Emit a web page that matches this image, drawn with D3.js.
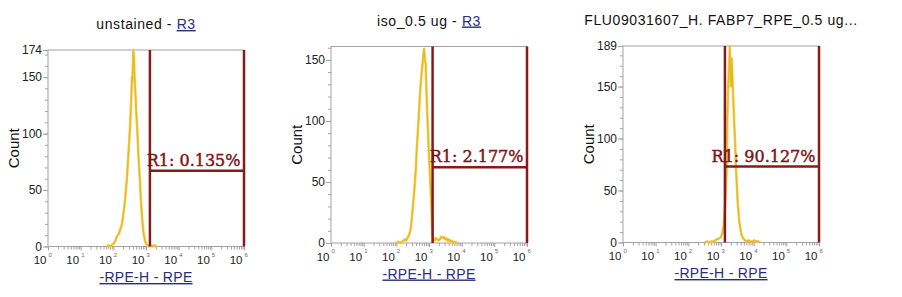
<!DOCTYPE html>
<html>
<head>
<meta charset="utf-8">
<script src="https://cdn.jsdelivr.net/npm/d3@7"></script>
<style>
  body { margin: 0; background: #fff; }
  svg { display: block; }
  text { font-family: "Liberation Sans", Arial, sans-serif; }
</style>
</head>
<body>
<svg class="plot" width="902" height="297"></svg>
<script>
  // titles of the three samples
  const sampleNames = ["unstained - ", "iso_0.5 ug - ", "FLU09031607_H. FABP7_RPE_0.5 ug..."]
  const sampleLinks = [" R3", " R3", ""]
  const axisLabel = "-RPE-H - RPE"
  const countLabel = "Count"
  const countMax = [174, 161, 189]
  const countTopLabel = ["174", "", "189"]
  const countTicks = [0, 50, 100, 150]
  const decades = [0, 1, 2, 3, 4, 5, 6]
  // R1 gate, in log10 RPE-H, and height of the gate bar in counts
  const gateFrom = [3.12, 3.11, 3.12]
  const gateTo = [6, 6, 6]
  const gateLevel = [67, 62, 73]
  const gateLabels = ["R1: 0.135%", "R1: 2.177%", "R1: 90.127%"]

  // histograms: [log10 RPE-H, count]
  const unstained = [[1.80,0],[1.86,1],[1.90,0],[1.94,1],[1.98,2],[2.02,3],[2.06,5],[2.10,8],[2.14,10],[2.18,12],
    [2.22,16],[2.26,19],[2.30,27],[2.34,36],[2.38,48],[2.42,62],[2.46,81],[2.49,96],[2.51,105],[2.54,125],
    [2.56,140],[2.57,150],[2.58,146],[2.60,162],[2.61,174],[2.63,168],[2.65,150],[2.68,134],[2.70,120],[2.73,105],
    [2.76,86],[2.79,70],[2.82,55],[2.84,43],[2.87,30],[2.90,19],[2.93,11],[2.97,5],[3.01,2],[3.05,1],
    [3.09,0],[3.14,1],[3.20,0],[3.26,1],[3.32,0]]
  const isotype = [[2.00,0],[2.06,1],[2.12,0],[2.18,1],[2.22,2],[2.26,3],[2.30,2],[2.34,4],[2.38,6],[2.42,9],
    [2.46,16],[2.50,28],[2.54,40],[2.57,50],[2.60,62],[2.62,75],[2.66,92],[2.70,110],[2.73,125],[2.77,138],
    [2.80,146],[2.83,155],[2.85,159],[2.87,152],[2.90,146],[2.92,128],[2.94,110],[2.97,92],[2.99,77],[3.02,60],
    [3.05,44],[3.07,30],[3.09,17],[3.11,8],[3.13,3],[3.17,2],[3.21,4],[3.25,3],[3.29,2],[3.33,3],
    [3.37,5],[3.41,4],[3.45,5],[3.49,3],[3.53,4],[3.57,2],[3.61,3],[3.65,1],[3.70,2],[3.75,0],[3.80,1],[3.86,0]]
  const fabp7 = [[2.50,0],[2.58,1],[2.64,0],[2.70,1],[2.76,1],[2.82,2],[2.88,3],[2.94,4],[2.99,5],[3.04,9],
    [3.08,16],[3.12,33],[3.15,50],[3.17,68],[3.19,112],[3.22,150],[3.25,170],[3.27,189],[3.29,160],[3.31,150],
    [3.33,177],[3.36,150],[3.39,128],[3.41,112],[3.44,90],[3.46,71],[3.49,52],[3.51,39],[3.54,28],[3.56,20],
    [3.60,12],[3.63,7],[3.68,4],[3.73,2],[3.78,1],[3.84,2],[3.90,1],[3.96,1],[4.02,2],[4.08,1],[4.14,1],[4.20,0]]

  const series = [unstained, isotype, fabp7]

  var panelLeft = [48, 331, 623]
  var panelTop = [50, 46.5, 46]
  var pw = 196
  var ph = 196.5
  var grey = "#a3a3a3"
  var gateColor = "#871a1a"
  var linkColor = "#2a2c80"

  const svg = d3.select("svg.plot")

  series.forEach((data, i) => {
    const g = svg.append("g")
      .attr("transform", "translate(" + panelLeft[i] + "," + panelTop[i] + ")")
    const x = d3.scaleLog().domain([1, 1e6]).range([0, pw])
    const y = d3.scaleLinear().domain([0, countMax[i]]).range([ph, 0])

    // frame
    g.append("rect")
      .attr("x", 0).attr("y", 0).attr("width", pw).attr("height", ph)
      .attr("fill", "none").attr("stroke", grey)

    // minor log ticks
    let minor = []
    decades.slice(0, -1).forEach(k => {
      for (let m = 2; m < 10; m++) minor.push(m * Math.pow(10, k))
    })
    let bottomMinor = g.append("g")
      .attr("transform", "translate(0," + ph + ")")
      .call(d3.axisBottom(x).tickValues(minor).tickSize(3).tickFormat(""))
    let bottomMajor = g.append("g")
      .attr("transform", "translate(0," + ph + ")")
      .call(d3.axisBottom(x).tickValues(decades.map(k => Math.pow(10, k))).tickSize(4).tickFormat(""))

    let yMinor = d3.range(0, countMax[i] + 1, 10)
    let leftMinor = g.append("g")
      .call(d3.axisLeft(y).tickValues(yMinor).tickSize(3).tickFormat(""))
    let yMajor = countTicks.slice()
    if (countTopLabel[i] != "") yMajor.push(countMax[i])
    let leftMajor = g.append("g")
      .call(d3.axisLeft(y).tickValues(yMajor).tickSize(5).tickFormat(""))
    ;[bottomMinor, bottomMajor, leftMinor, leftMajor].forEach(a => {
      a.select(".domain").remove()
      a.selectAll("line").attr("stroke", grey)
    })

    // y tick labels
    yMajor.forEach(v => {
      g.append("text")
        .attr("x", -6)
        .attr("y", y(v))
        .attr("dy", "0.36em")
        .attr("text-anchor", "end")
        .attr("font-size", 12)
        .attr("fill", "#222")
        .text(v)
    })

    // x tick labels: 10 with a small exponent
    decades.forEach(k => {
      g.append("text")
        .attr("x", x(Math.pow(10, k)) - 1.5)
        .attr("y", ph + 17.5)
        .attr("text-anchor", "end")
        .attr("font-size", 11.5)
        .attr("fill", "#222")
        .text("10")
      g.append("text")
        .attr("x", x(Math.pow(10, k)) + 0.5)
        .attr("y", ph + 10)
        .attr("font-size", 6)
        .attr("fill", "#666")
        .text(k)
    })

    // histogram
    const line = d3.line()
      .x(d => x(Math.pow(10, d[0])))
      .y(d => y(d[1]))
    g.append("path")
      .datum(data)
      .attr("d", line)
      .attr("fill", "none")
      .attr("stroke", "#f3d25e")
      .attr("stroke-width", 2.6)
      .attr("stroke-linejoin", "round")
    g.append("path")
      .datum(data)
      .attr("d", line)
      .attr("fill", "none")
      .attr("stroke", "#e9b91c")
      .attr("stroke-width", 1.3)
      .attr("stroke-linejoin", "round")

    // gate R1
    let gx1 = x(Math.pow(10, gateFrom[i]))
    let gx2 = x(Math.pow(10, gateTo[i]))
    let gy = y(gateLevel[i])
    g.append("line")
      .attr("x1", gx1).attr("x2", gx1).attr("y1", 0).attr("y2", ph)
      .attr("stroke", gateColor).attr("stroke-width", 2.5)
    g.append("line")
      .attr("x1", gx2).attr("x2", gx2).attr("y1", 0).attr("y2", ph)
      .attr("stroke", gateColor).attr("stroke-width", 2.5)
    g.append("line")
      .attr("x1", gx1).attr("x2", gx2).attr("y1", gy).attr("y2", gy)
      .attr("stroke", gateColor).attr("stroke-width", 2.5)
    g.append("text")
      .attr("x", gx2 - 3.5)
      .attr("y", gy - 5)
      .attr("text-anchor", "end")
      .style("font-family", "'DejaVu Serif', serif")
      .attr("font-size", 16)
      .attr("fill", "#7d1414")
      .attr("stroke", "#7d1414")
      .attr("stroke-width", 0.45)
      .text(gateLabels[i])

    // title
    let title = g.append("text")
      .attr("x", pw / 2)
      .attr("y", -21)
      .attr("text-anchor", "middle")
      .attr("font-size", 14)
      .attr("letter-spacing", 0.6)
      .attr("fill", "#111")
    title.append("tspan").text(sampleNames[i])
    if (sampleLinks[i] != "") {
      title.append("tspan")
        .attr("fill", linkColor)
        .attr("text-decoration", "underline")
        .text(sampleLinks[i])
    }

    // axis titles
    g.append("text")
      .attr("x", pw / 2)
      .attr("y", ph + 35.5)
      .attr("text-anchor", "middle")
      .attr("font-size", 14)
      .attr("letter-spacing", 0.3)
      .attr("fill", linkColor)
      .attr("text-decoration", "underline")
      .text(axisLabel)
    g.append("text")
      .attr("transform", "translate(-34," + (ph / 2) + ") rotate(-90)")
      .attr("dy", "0.36em")
      .attr("text-anchor", "middle")
      .attr("font-size", 15)
      .attr("fill", "#111")
      .text(countLabel)
  })
</script>
</body>
</html>
